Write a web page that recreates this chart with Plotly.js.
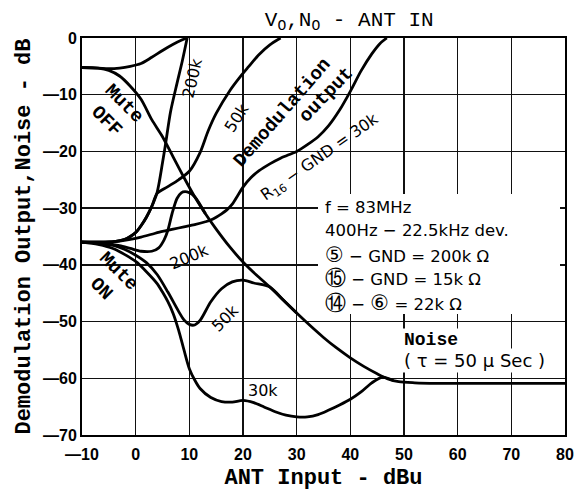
<!DOCTYPE html>
<html>
<head>
<meta charset="utf-8">
<script src="https://cdn.plot.ly/plotly-3.0.1.min.js"></script>
<style>body{margin:0;background:#fff}</style>
</head>
<body>
<div id="chart" style="width:584px;height:491px"></div>
<script>
// ---- data ----
const outMuteOffX = [-10, -7, -5, -3, -1, 1, 3, 5, 7, 8.5, 9.6];
const outMuteOffY = [-5.2, -5.3, -5.4, -5.3, -5.0, -4.5, -3.4, -2.2, -1.1, -0.4, 0];

const noiseMuteOffX = [-10, -7, -5, -3, -1, 1, 3, 5, 7, 9, 11, 13, 15, 17.5, 20, 22.5, 25, 27.5, 30, 32.5, 35, 37.5, 40, 42.5, 45, 47, 49, 52, 56, 60, 65, 70, 75, 80];
const noiseMuteOffY = [-5.2, -5.3, -5.7, -6.7, -8.5, -10.8, -14.4, -17.4, -21, -24.6, -28, -31, -33.7, -36.8, -39.5, -41.8, -43.9, -46.2, -48.5, -50.7, -52.8, -54.7, -56.4, -57.9, -59.2, -60.1, -60.6, -60.8, -60.9, -60.9, -60.9, -60.9, -60.9, -60.9];

const out200kOnX = [-10, -7, -4, -2, -1, 0, 1, 2, 3, 4, 5, 5.6, 6.5, 7.7, 8.7, 9.6];
const out200kOnY = [-36, -36, -35.9, -35.5, -35, -34.3, -33.1, -31.6, -29.7, -27.2, -22, -18.5, -13, -8, -4, 0];

const out50kOnX = [-10, -7, -4, -2, -1, 0, 1, 2, 3, 4, 6, 8, 10, 12, 13.5, 15, 17.6, 19.5, 21, 23, 25, 27];
const out50kOnY = [-36, -36, -35.9, -35.5, -35, -34.3, -33.1, -31.6, -29.7, -27.4, -26.2, -25, -23.5, -20.2, -16.4, -13.3, -9.2, -6.8, -5.1, -2.9, -1.2, 0];

const out30kOnX = [-10, -6, -3, -1, 1, 3, 5, 7, 9, 11, 13, 14, 15, 16, 17, 18, 19, 20, 21.5, 23, 25, 27, 29, 30, 32, 34, 36, 38, 40, 42, 44, 45.5, 46.8];
const out30kOnY = [-36, -36, -35.8, -35.5, -35.1, -34.6, -34.1, -33.7, -33.3, -32.9, -32.4, -32.1, -31.6, -31, -30.3, -29.3, -27.8, -26.3, -24.6, -23.4, -22.2, -21.2, -20.4, -20, -18.8, -17.4, -15.4, -12.7, -9.4, -5.8, -2.8, -1, 0];

const noise200kOnX = [-10, -6, -3, -1, 1, 3, 4.3, 5.3, 6, 6.8, 7.7, 8.5, 9.2, 10, 11, 13];
const noise200kOnY = [-36, -36.2, -36.6, -37.1, -37.6, -37.6, -37, -35.6, -33.9, -30.9, -28.3, -27.3, -27.1, -27.3, -28, -31];

const noise50kOnX = [-10, -7, -4, -2, 0, 2, 4, 6, 8, 9, 10, 11, 12, 14, 16, 18, 20, 22, 25, 27.5, 30];
const noise50kOnY = [-36, -36.2, -36.6, -37.3, -38.3, -39.6, -41.7, -44.8, -48.2, -49.7, -50.5, -50.6, -49.8, -46.5, -44.2, -43, -42.7, -43.2, -43.9, -46.2, -48.5];

const noise30kOnX = [-10, -7, -4, -2, 0, 2, 4, 5, 6, 7, 8, 9, 10, 11, 12, 14, 16, 18, 20, 22, 24, 26, 28, 30, 32, 34, 36, 38, 40, 42, 44, 46, 48];
const noise30kOnY = [-36, -36.4, -37.2, -38.2, -39.4, -41.2, -43.3, -44.8, -46.5, -48.6, -51.5, -55, -58.3, -60.3, -61.8, -63.4, -64.1, -64.2, -63.9, -64.3, -65.1, -65.9, -66.5, -66.8, -66.8, -66.4, -65.6, -64.7, -63.7, -62.4, -60.8, -59.8, -60.4];

const xTickVals = [-10, 0, 10, 20, 30, 40, 50, 60, 70, 80];
const xTickText = ['—10', '0', '10', '20', '30', '40', '50', '60', '70', '80'];
const yTickVals = [0, -10, -20, -30, -40, -50, -60, -70];
const yTickText = ['0', '—10', '—20', '—30', '—40', '—50', '—60', '—70'];

const chartTitle = 'V<sub>O</sub>,N<sub>O</sub> - ANT IN';
const xTitle = 'ANT Input - dBu';
const yTitle = 'Demodulation Output,Noise - dB';

const circ = function (s) { return '<span style="font-size:21px">' + s + '</span>'; };
const conditionLines = [
  'f = 83MHz',
  '400Hz − 22.5kHz dev.',
  circ('⑤') + ' − GND = 200k Ω',
  circ('⑮') + ' − GND = 15k Ω',
  circ('⑭') + ' − ' + circ('⑥') + ' = 22k Ω'
];
const conditionY = [-29.8, -34, -38.3, -42.4, -46.7];

// ---- drawing ----
const lineStyle = {color: '#000', width: 2.8, shape: 'spline', smoothing: 0.8};
function tr(x, y, name) {
  return {x: x, y: y, name: name, mode: 'lines', line: lineStyle, hoverinfo: 'skip', showlegend: false};
}
const data = [
  tr(outMuteOffX, outMuteOffY, 'Output Mute OFF'),
  tr(noiseMuteOffX, noiseMuteOffY, 'Noise Mute OFF'),
  tr(out200kOnX, out200kOnY, 'Output 200k'),
  tr(out50kOnX, out50kOnY, 'Output 50k'),
  tr(out30kOnX, out30kOnY, 'Output 30k'),
  tr(noise200kOnX, noise200kOnY, 'Noise 200k'),
  tr(noise50kOnX, noise50kOnY, 'Noise 50k'),
  tr(noise30kOnX, noise30kOnY, 'Noise 30k')
];

const monoB = {family: 'Liberation Mono, DejaVu Sans Mono, monospace', size: 19, color: '#000', weight: 'bold'};
const sans = {family: 'DejaVu Sans, Liberation Sans, sans-serif', size: 16, color: '#000'};
const sansC = Object.assign({}, sans, {size: 16.5});

const annotations = [
  {x: -3.9, y: -13.2, text: 'Mute<br>OFF', textangle: 45, font: monoB},
  {x: -4.8, y: -42.7, text: 'Mute<br>ON', textangle: 45, font: monoB},
  {x: 27.3, y: -13.2, text: 'Demodulation', textangle: -49, font: monoB},
  {x: 35.5, y: -10, text: 'output', textangle: -46, font: monoB},
  {x: 10.5, y: -7.1, text: '200k', textangle: -77, font: sans},
  {x: 18.9, y: -14.1, text: '50k', textangle: -58, font: sans},
  {x: 34.3, y: -21, text: 'R<sub>16</sub> − GND = 30k', textangle: -35, font: sans},
  {x: 10.1, y: -38.6, text: '200k', textangle: -23, font: sans},
  {x: 16.6, y: -49.4, text: '50k', textangle: -45, font: sans},
  {x: 23.7, y: -62.1, text: '30k', textangle: 0, font: sans},
  {x: 49.6, y: -53.3, text: 'Noise', xanchor: 'left', font: Object.assign({}, monoB, {size: 18}), bgcolor: '#fff'},
  {x: 49.6, y: -56.8, text: '( τ = 50 μ Sec )', xanchor: 'left', font: Object.assign({}, sans, {size: 18}), bgcolor: '#fff'}
];
conditionLines.forEach(function (t, i) {
  annotations.push({x: 34.9, y: conditionY[i], text: t, xanchor: 'left', font: sansC});
});
annotations.forEach(function (a) { a.showarrow = false; a.xref = 'x'; a.yref = 'y'; });

const layout = {
  width: 584, height: 491,
  margin: {l: 82, r: 19, t: 38, b: 56},
  paper_bgcolor: '#fff', plot_bgcolor: '#fff',
  title: {text: chartTitle, x: 0.598, xanchor: 'center', y: 0.962, yanchor: 'middle',
          font: {family: 'Liberation Mono, monospace', size: 21, color: '#000'}},
  xaxis: {range: [-10, 80], tickvals: xTickVals, ticktext: xTickText, ticks: '',
          ticklabelstandoff: 4,
          showgrid: true, gridcolor: '#111', gridwidth: 1.4, zeroline: false,
          showline: true, linecolor: '#000', linewidth: 2, mirror: true,
          tickfont: {family: 'Liberation Sans, Arial, sans-serif', size: 16, color: '#000', weight: 'bold'},
          title: {text: xTitle, standoff: 6, font: {family: 'Liberation Mono, monospace', size: 22, color: '#000', weight: 'bold'}}},
  yaxis: {range: [-70, 0], tickvals: yTickVals, ticktext: yTickText, ticks: '',
          showgrid: true, gridcolor: '#111', gridwidth: 1.4, zeroline: false,
          showline: true, linecolor: '#000', linewidth: 2, mirror: true,
          tickfont: {family: 'Liberation Sans, Arial, sans-serif', size: 16, color: '#000', weight: 'bold'},
          title: {text: yTitle, standoff: 6, font: {family: 'Liberation Mono, monospace', size: 22, color: '#000', weight: 'bold'}}},
  shapes: [
    {type: 'rect', xref: 'paper', yref: 'paper', layer: 'above',
     x0: (318 - 82) / 483, x1: (560 - 82) / 483, y0: (435 - 314) / 397, y1: (435 - 194) / 397,
     fillcolor: '#fff', line: {width: 0}}
  ],
  annotations: annotations
};

Plotly.newPlot('chart', data, layout, {displayModeBar: false, staticPlot: true});
</script>
</body>
</html>
